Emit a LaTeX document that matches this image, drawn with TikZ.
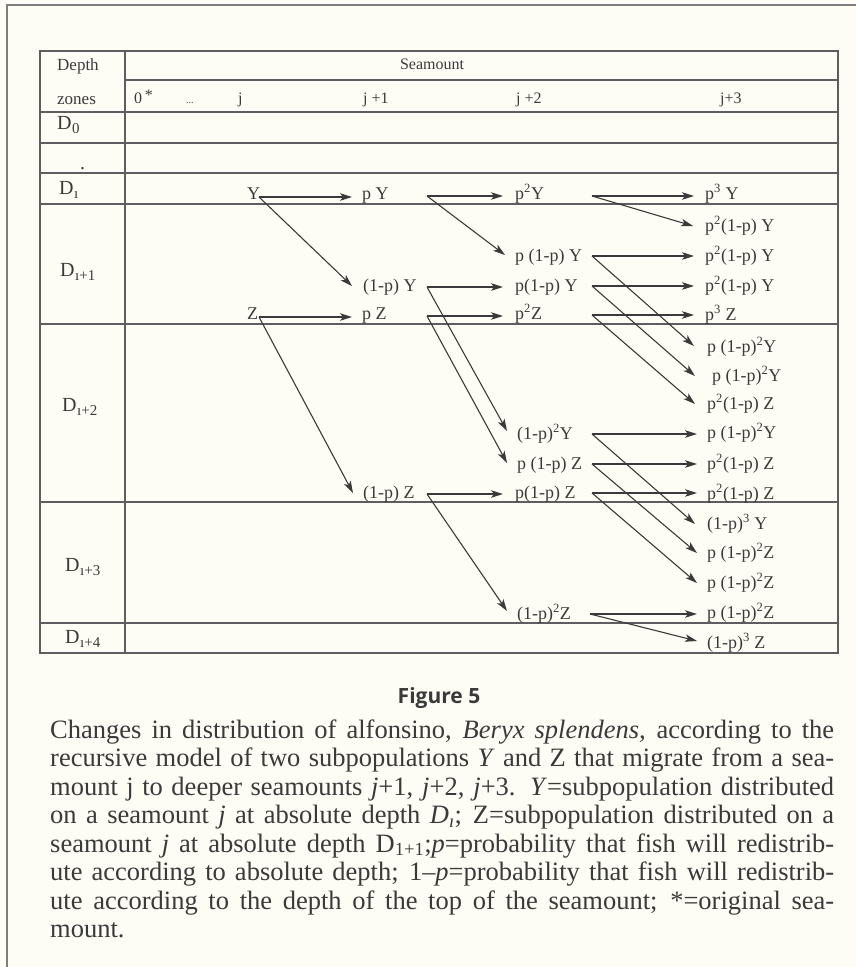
\documentclass[tikz,border=0pt]{standalone}
\usepackage{fontspec}
\setmainfont{Liberation Serif}
\newfontfamily\figfont{Open Sans}
\usetikzlibrary{arrows.meta,calc}
\definecolor{bg}{HTML}{FEFDF5}
\definecolor{ink}{HTML}{3A3A3A}
\definecolor{rule}{HTML}{5E5E5E}
\newcommand{\Dz}[1]{D\kern0.5pt\raisebox{-0.5ex}{\fontsize{15}{15}\selectfont #1}}
\newcommand{\sq}{\textsuperscript{2}}
\newcommand{\cu}{\textsuperscript{3}}
\begin{document}
\begin{tikzpicture}[x=1pt,y=-1pt,
 lbl/.style={inner sep=0pt, anchor=base west, text=ink, font=\fontsize{18}{20}\selectfont},
 hdr/.style={inner sep=0pt, anchor=base west, text=ink, font=\fontsize{16}{18}\selectfont},
 dlab/.style={inner sep=0pt, anchor=base west, text=ink, font=\fontsize{20}{22}\selectfont},
 arr/.style={draw=ink, line width=1.1pt, -{Stealth[length=12pt,width=7.5pt,inset=3pt]}},
 tline/.style={draw=rule, line width=1.4pt},
]
\fill[bg] (0,0) rectangle (856,967);
\useasboundingbox (0,0) rectangle (856,967);
% outer frame
\draw[draw=rule!80, line width=1.5pt] (7,967) -- (7,5) -- (856,5);
% table
\draw[tline] (40,51) rectangle (838,653);
\draw[tline] (125,51) -- (125,653);
\draw[tline] (125,80) -- (838,80);
\foreach \yy in {112,143,173,204,324,502,623} \draw[tline] (40,\yy) -- (838,\yy);
% header
\node[hdr, font=\fontsize{17}{19}\selectfont] (hDepth) at (57,70) {Depth};
\node[hdr, font=\fontsize{17}{19}\selectfont] (hZones) at (57,104) {zones};
\node[hdr, anchor=base] (hSea) at (432,69) {Seamount};
\node[hdr] (h0) at (134,103) {0\,\raisebox{0.3ex}{*}};
\node[hdr] (hdots) at (186,103) {\fontsize{10}{10}\selectfont ...};
\node[hdr] (hj) at (238,103) {j};
\node[hdr] (hj1) at (363,103) {j +1};
\node[hdr] (hj2) at (516,103) {j +2};
\node[hdr] (hj3) at (720,103) {j+3};
% depth labels
\node[dlab] (d0) at (57,129) {\Dz{0}};
\node[dlab] (ddot) at (80,169) {.};
\node[dlab] (di) at (59,194) {\Dz{\i}};
\node[dlab] (di1) at (60,276) {\Dz{\i+1}};
\node[dlab] (di2) at (62,411) {\Dz{\i+2}};
\node[dlab] (di3) at (65,571) {\Dz{\i+3}};
\node[dlab] (di4) at (65,643) {\Dz{\i+4}};
% column anchors
\coordinate (cA) at (259,0);
\coordinate (cB) at (427,0);
\coordinate (cC) at (592,0);
% column j
\node[lbl] (nY) at (247,199) {Y};
\node[lbl] (nZ) at (247,319) {Z};
% column j+1
\node[lbl] (nPY) at (362,199) {p Y};
\node[lbl] (nQ1Y) at (363,291) {(1-p) Y};
\node[lbl] (nPZ) at (362,319) {p Z};
\node[lbl] (nQ1Z) at (363,498) {(1-p) Z};
% column j+2
\node[lbl] (nP2Y) at (515,199) {p\sq Y};
\node[lbl] (nPQYa) at (515,261) {p (1-p) Y};
\node[lbl] (nPQYb) at (515,291) {p(1-p) Y};
\node[lbl] (nP2Z) at (515,319) {p\sq Z};
\node[lbl] (nQ2Y) at (517,439) {(1-p)\sq Y};
\node[lbl] (nPQZa) at (517,469) {p (1-p) Z};
\node[lbl] (nPQZb) at (515,498) {p(1-p) Z};
\node[lbl] (nQ2Z) at (517,619) {(1-p)\sq Z};
% column j+3
\node[lbl] (nP3Y) at (705,199) {p\cu{} Y};
\node[lbl] (nP2QYa) at (705,231) {p\sq(1-p) Y};
\node[lbl] (nP2QYb) at (705,261) {p\sq(1-p) Y};
\node[lbl] (nP2QYc) at (705,291) {p\sq(1-p) Y};
\node[lbl] (nP3Z) at (705,320) {p\cu{} Z};
\node[lbl] (nPQ2Ya) at (707,352) {p (1-p)\sq Y};
\node[lbl] (nPQ2Yb) at (712,381) {p (1-p)\sq Y};
\node[lbl] (nP2QZa) at (707,409) {p\sq(1-p) Z};
\node[lbl] (nPQ2Yc) at (707,438) {p (1-p)\sq Y};
\node[lbl] (nP2QZb) at (707,469) {p\sq(1-p) Z};
\node[lbl] (nP2QZc) at (707,499) {p\sq(1-p) Z};
\node[lbl] (nQ3Y) at (707,529) {(1-p)\cu{} Y};
\node[lbl] (nPQ2Za) at (707,558) {p (1-p)\sq Z};
\node[lbl] (nPQ2Zb) at (707,588) {p (1-p)\sq Z};
\node[lbl] (nPQ2Zc) at (707,618) {p (1-p)\sq Z};
\node[lbl] (nQ3Z) at (707,648) {(1-p)\cu{} Z};
% junctions
\coordinate (jY) at ($(nY.base -| cA)+(0,-2)$);
\coordinate (jZ) at ($(nZ.base -| cA)+(0,-2)$);
\coordinate (jPY) at ($(nPY.base -| cB)+(0,-3)$);
\coordinate (jQ1Y) at ($(nQ1Y.base -| cB)+(0,-4)$);
\coordinate (jPZ) at ($(nPZ.base -| cB)+(0,-3)$);
\coordinate (jQ1Z) at ($(nQ1Z.base -| cB)+(0,-4)$);
\coordinate (jP2Y) at ($(nP2Y.base -| cC)+(0,-3)$);
\coordinate (jPQYa) at ($(nPQYa.base -| cC)+(0,-5)$);
\coordinate (jPQYb) at ($(nPQYb.base -| cC)+(0,-5)$);
\coordinate (jP2Z) at ($(nP2Z.base -| cC)+(0,-4)$);
\coordinate (jQ2Y) at ($(nQ2Y.base -| cC)+(0,-5)$);
\coordinate (jPQZa) at ($(nPQZa.base -| cC)+(0,-5)$);
\coordinate (jPQZb) at ($(nPQZb.base -| cC)+(0,-5)$);
\coordinate (jQ2Z) at ($(nQ2Z.base -| cC)+(-2,-5)$);
% horizontal arrows
\draw[arr] (jY) -- ($(jY -| nPY.west)+(-10,0)$);
\draw[arr] (jZ) -- ($(jZ -| nPZ.west)+(-10,0)$);
\draw[arr] (jPY) -- ($(jPY -| nP2Y.west)+(-12,0)$);
\draw[arr] (jQ1Y) -- ($(jQ1Y -| nPQYb.west)+(-12,0)$);
\draw[arr] (jPZ) -- ($(jPZ -| nP2Z.west)+(-12,0)$);
\draw[arr] (jQ1Z) -- ($(jQ1Z -| nPQZb.west)+(-12,0)$);
\draw[arr] (jP2Y) -- ($(jP2Y -| nP3Y.west)+(-11,0)$);
\draw[arr] (jPQYa) -- ($(jPQYa -| nP2QYb.west)+(-11,0)$);
\draw[arr] (jPQYb) -- ($(jPQYb -| nP2QYc.west)+(-11,0)$);
\draw[arr] (jP2Z) -- ($(jP2Z -| nP3Z.west)+(-11,0)$);
\draw[arr] (jQ2Y) -- ($(jQ2Y -| nPQ2Yc.west)+(-10,0)$);
\draw[arr] (jPQZa) -- ($(jPQZa -| nP2QZb.west)+(-10,0)$);
\draw[arr] (jPQZb) -- ($(jPQZb -| nP2QZc.west)+(-10,0)$);
\draw[arr] (jQ2Z) -- ($(jQ2Z -| nPQ2Zc.west)+(-10,0)$);
% diagonal arrows
\draw[arr] (jY) -- ($(nQ1Y.base west)+(-11,-5)$);
\draw[arr] (jZ) -- ($(nQ1Z.base west)+(-10,-5)$);
\draw[arr] (jPY) -- ($(nPQYa.base west)+(-10,-6)$);
\draw[arr] (jQ1Y) -- ($(nQ2Y.base west)+(-10,-8)$);
\draw[arr] (jPZ) -- ($(nPQZa.base west)+(-10,-6)$);
\draw[arr] (jQ1Z) -- ($(nQ2Z.base west)+(-10,-8)$);
\draw[arr] (jP2Y) -- ($(nP2QYa.base west)+(-12,-5)$);
\draw[arr] (jPQYa) -- ($(nPQ2Ya.base west)+(-13,-6)$);
\draw[arr] (jPQYb) -- ($(nPQ2Yb.base west)+(-17,-5)$);
\draw[arr] (jP2Z) -- ($(nP2QZa.base west)+(-12,-5)$);
\draw[arr] (jQ2Y) -- ($(nQ3Y.base west)+(-12,-5)$);
\draw[arr] (jPQZa) -- ($(nPQ2Za.base west)+(-10,-5)$);
\draw[arr] (jPQZb) -- ($(nPQ2Zb.base west)+(-10,-5)$);
\draw[arr] (jQ2Z) -- ($(nQ2Z.base west -| nQ3Z.west)+(-10,22)$);
% caption
\node[inner sep=0pt, text=ink, anchor=base, font=\figfont\bfseries\fontsize{21}{24}\selectfont] (fig) at (439,703) {Figure 5};
\node[inner sep=0pt, text=ink, anchor=base west] (cap) at (50,738) {\parbox[t]{784pt}{\fontsize{26.5}{28.5}\selectfont\noindent
\makebox[\linewidth][s]{Changes in distribution of alfonsino, \textit{Beryx splendens,} according to the}\\
\makebox[\linewidth][s]{recursive model of two subpopulations \textit{Y} and Z that migrate from a sea-}\\
\makebox[\linewidth][s]{mount j to deeper seamounts \textit{j}+1, \textit{j}+2, \textit{j}+3. \textit{Y}=subpopulation distributed}\\
\makebox[\linewidth][s]{on a seamount \textit{j} at absolute depth \textit{D}\textsubscript{\textit{\i}}; Z=subpopulation distributed on a}\\
\makebox[\linewidth][s]{seamount \textit{j} at absolute depth D\textsubscript{1+1};\textit{p}=probability that fish will redistrib-}\\
\makebox[\linewidth][s]{ute according to absolute depth; 1–\textit{p}=probability that fish will redistrib-}\\
\makebox[\linewidth][s]{ute according to the depth of the top of the seamount; *=original sea-}\\
mount.}};
\end{tikzpicture}
\end{document}
